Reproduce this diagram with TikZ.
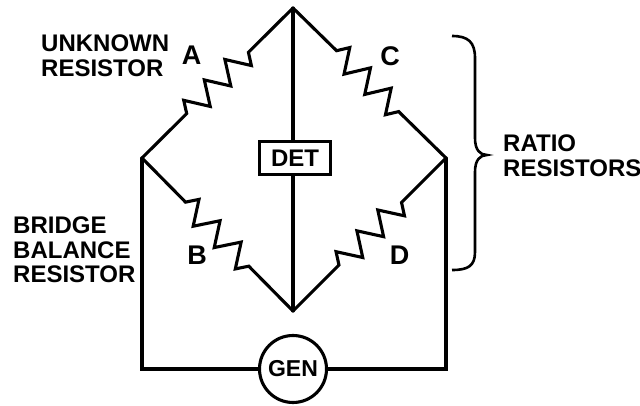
\documentclass[tikz,border=0pt]{standalone}
\usepackage{fontspec}
\setmainfont{Liberation Sans}
\usetikzlibrary{decorations.pathmorphing}
\begin{document}
\begin{tikzpicture}[x=1pt,y=-1pt,
  wire/.style={line width=3.1pt, line cap=round},
  res/.style args={#1/#2/#3}{decorate, decoration={zigzag, amplitude=11.5pt, segment length=#2, pre length=#1, post length=#3}},
  txt/.style={font=\fontsize{24}{24.5}\selectfont\bfseries, inner sep=0pt},
  big/.style={font=\fontsize{27}{27}\selectfont\bfseries, inner sep=0pt},
  lbl/.style={txt, align=left, anchor=north west}]
\useasboundingbox (0,0) rectangle (640,406);
\fill[white] (0,0) rectangle (640,406);
\coordinate (T) at (293,8);
\coordinate (L) at (142,158);
\coordinate (R) at (446,158);
\coordinate (Bot) at (293,311);
\node[draw, wire, txt, minimum width=71pt, minimum height=33pt] (DET) at (295,158) {DET};
\node[circle, draw, wire, txt, font=\fontsize{23}{23}\selectfont\bfseries, minimum size=67pt] (GEN) at (293,369) {GEN};
% resistors
\draw[wire, res=63pt/29pt/62pt] (L) -- (T);
\draw[wire, res=61pt/29pt/65.5pt] (T) -- (R);
\draw[wire, res=62pt/30pt/62pt] (L) -- (Bot);
\draw[wire, res=65pt/29.5pt/62pt] (Bot) -- (R);
% detector branch
\draw[wire] (T) -- (T |- DET.north);
\draw[wire] (Bot |- DET.south) -- (Bot);
% generator branch
\draw[wire] (L) |- (GEN.west);
\draw[wire] (R) |- (GEN.east);
% brace
\draw[line width=2.6pt] (452,36) .. controls (468,36) and (475,42) .. (475,58) -- (475,138) .. controls (475,150) and (480,155) .. (487,155) .. controls (480,155) and (475,160) .. (475,172) -- (475,252) .. controls (475,266) and (468,270) .. (452,270);
% labels
\node[lbl] (unk) at (41,35) {UNKNOWN\\RESISTOR};
\node[lbl] (bbr) at (13,217) {BRIDGE\\BALANCE\\RESISTOR};
\node[lbl] (rr) at (503,135) {RATIO\\RESISTORS};
\node[big] (la) at (191.5,55) {A};
\node[big] (lc) at (390,56.5) {C};
\node[big] (lb) at (197,255) {B};
\node[big] (ld) at (399.5,255) {D};
\end{tikzpicture}
\end{document}
